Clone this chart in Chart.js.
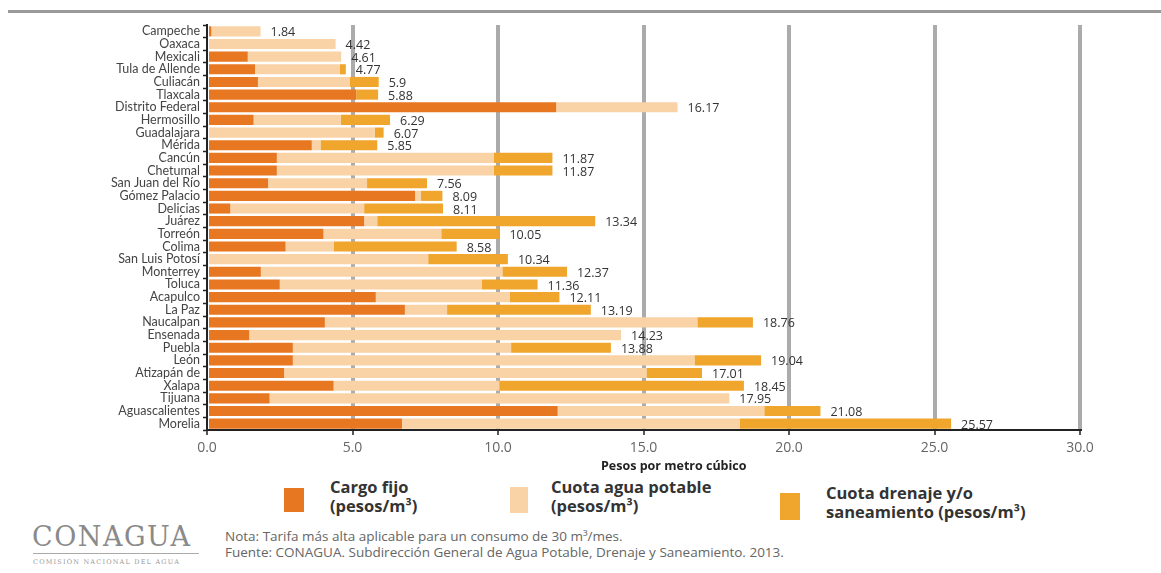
<!DOCTYPE html>
<html>
<head>
<meta charset="utf-8">
<script src="https://cdn.jsdelivr.net/npm/chart.js@4"></script>
<style>
  body { margin: 0; background: #fff; width: 1161px; height: 573px; position: relative; overflow: hidden; font-family: 'Open Sans', sans-serif; }
  #topline { position: absolute; left: 8px; right: 0; top: 10px; height: 3px; background: #9a9a9a; }
  #wrap { position: absolute; left: 0; top: 0; width: 1161px; height: 475px; }
  #xtitle { position: absolute; left: 601px; top: 457px; font-size: 12.5px; font-weight: bold; color: #222; }
  .box { position: absolute; }
  .leg { position: absolute; font-family: 'Open Sans', sans-serif; font-weight: bold; font-size: 16.5px; line-height: 19px; color: #333; }
  #logo { position: absolute; left: 32px; top: 521px; font-family: 'DejaVu Serif', serif; font-size: 27px; color: #8a8a8a; letter-spacing: 1.5px; }
  #logosub { position: absolute; left: 33px; top: 558px; font-family: 'DejaVu Serif', serif; font-size: 6.5px; color: #999; letter-spacing: 1.2px; }
  #logoline { position: absolute; left: 33px; top: 553px; width: 166px; height: 1px; background: #aaa; }
  .note { position: absolute; left: 225px; font-size: 13.5px; color: #666; font-family: 'Open Sans', sans-serif; }
</style>
</head>
<body>
<div id="topline"></div>
<div id="wrap"><canvas id="myChart"></canvas></div>
<div id="xtitle">Pesos por metro cúbico</div>

<div class="box" style="left:284px;top:488px;width:20px;height:24px;background:#E87722"></div>
<div class="leg" style="left:330px;top:477px">Cargo fijo<br>(pesos/m³)</div>
<div class="box" style="left:510px;top:487px;width:18px;height:26px;background:#F9D2A6"></div>
<div class="leg" style="left:551px;top:477px">Cuota agua potable<br>(pesos/m³)</div>
<div class="box" style="left:780px;top:493px;width:20px;height:27px;background:#F0A52C"></div>
<div class="leg" style="left:826px;top:483px">Cuota drenaje y/o<br>saneamiento (pesos/m³)</div>

<div id="logo">CONAGUA</div>
<div id="logoline"></div>
<div id="logosub">COMISIÓN NACIONAL DEL AGUA</div>
<div class="note" style="top:527px">Nota: Tarifa más alta aplicable para un consumo de 30 m³/mes.</div>
<div class="note" style="top:543px">Fuente: CONAGUA. Subdirección General de Agua Potable, Drenaje y Saneamiento. 2013.</div>

<script>
const cities = ['Campeche', 'Oaxaca', 'Mexicali', 'Tula de Allende', 'Culiacán', 'Tlaxcala', 'Distrito Federal',
    'Hermosillo', 'Guadalajara', 'Mérida', 'Cancún', 'Chetumal', 'San Juan del Río', 'Gómez Palacio', 'Delicias',
    'Juárez', 'Torreón', 'Colima', 'San Luis Potosí', 'Monterrey', 'Toluca', 'Acapulco', 'La Paz', 'Naucalpan',
    'Ensenada', 'Puebla', 'León', 'Atizapán de', 'Xalapa', 'Tijuana', 'Aguascalientes', 'Morelia'];

const cargoFijo = [0.15, 0, 1.40, 1.65, 1.75, 5.13, 12.0, 1.60, 0, 3.60, 2.40, 2.40, 2.10, 7.15, 0.80,
    5.40, 4.00, 2.70, 0, 1.85, 2.50, 5.80, 6.80, 4.05, 1.45, 2.95, 2.95, 2.65, 4.35, 2.15, 12.05, 6.70];

const aguaPotable = [1.69, 4.42, 3.21, 2.92, 3.15, 0, 4.17, 3.00, 5.77, 0.30, 7.45, 7.45, 3.40, 0.20, 4.60,
    0.45, 4.05, 1.65, 7.60, 8.30, 6.95, 4.60, 1.45, 12.80, 12.78, 7.50, 13.80, 12.45, 5.70, 15.80, 7.10, 11.60];

const drenaje = [0, 0, 0, 0.20, 1.00, 0.75, 0, 1.69, 0.30, 1.95, 2.02, 2.02, 2.06, 0.74, 2.71,
    7.49, 2.00, 4.23, 2.74, 2.22, 1.91, 1.71, 4.94, 1.91, 0, 3.43, 2.29, 1.91, 8.40, 0, 1.93, 7.27];

const totals = ['1.84', '4.42', '4.61', '4.77', '5.9', '5.88', '16.17', '6.29', '6.07', '5.85', '11.87', '11.87',
    '7.56', '8.09', '8.11', '13.34', '10.05', '8.58', '10.34', '12.37', '11.36', '12.11', '13.19', '18.76',
    '14.23', '13.88', '19.04', '17.01', '18.45', '17.95', '21.08', '25.57'];

const xTicks = [0, 5, 10, 15, 20, 25, 30];

// labels with the total at the end of each bar
const totalLabels = {
    id: 'totalLabels',
    afterDatasetsDraw(chart) {
        const ctx = chart.ctx;
        const x = chart.scales.x;
        const y = chart.scales.y;
        ctx.save();
        ctx.font = '12.5px "Open Sans", sans-serif';
        ctx.fillStyle = '#333';
        ctx.textBaseline = 'middle';
        totals.forEach((t, i) => {
            const sum = cargoFijo[i] + aguaPotable[i] + drenaje[i];
            ctx.fillText(t, x.getPixelForValue(sum) + 10, y.getPixelForValue(i) + 1.5);
        });
        ctx.restore();
    }
};

const ctx = document.getElementById('myChart').getContext('2d');
new Chart(ctx, {
    type: 'bar',
    data: {
        labels: cities,
        datasets: [
            { label: 'Cargo fijo (pesos/m³)', data: cargoFijo, backgroundColor: '#E87722' },
            { label: 'Cuota agua potable (pesos/m³)', data: aguaPotable, backgroundColor: '#F9D2A6' },
            { label: 'Cuota drenaje y/o saneamiento (pesos/m³)', data: drenaje, backgroundColor: '#F0A52C' }
        ]
    },
    options: {
        indexAxis: 'y',
        responsive: true,
        maintainAspectRatio: false,
        animation: false,
        barPercentage: 0.8,
        categoryPercentage: 1.0,
        layout: { padding: { top: 25, right: 81, left: 0, bottom: 0 } },
        plugins: {
            legend: { display: false },
            tooltip: { enabled: false }
        },
        scales: {
            x: {
                stacked: true,
                min: 0,
                max: 30,
                afterBuildTicks: (scale) => { scale.ticks = xTicks.map(v => ({ value: v })); },
                afterFit: (scale) => { scale.height = 45; },
                ticks: {
                    callback: (v) => Number(v).toFixed(1),
                    font: { size: 14, family: 'Open Sans' },
                    color: '#666',
                    padding: 5
                },
                grid: {
                    color: (c) => (c.tick && c.tick.value === 0) ? 'rgba(0,0,0,0)' : '#ababab',
                    lineWidth: 4,
                    tickColor: '#222',
                    tickLength: 5,
                    tickWidth: 1.5
                },
                border: { color: '#222', width: 2 }
            },
            y: {
                stacked: true,
                afterFit: (scale) => { scale.width = 207; },
                ticks: {
                    font: { size: 12.5, family: 'Lato' },
                    color: '#444',
                    padding: 3,
                    autoSkip: false
                },
                grid: {
                    drawOnChartArea: false,
                    tickColor: '#222',
                    tickLength: 4,
                    tickWidth: 1.5
                },
                border: { color: '#222', width: 2 }
            }
        }
    },
    plugins: [totalLabels]
});
</script>
</body>
</html>
